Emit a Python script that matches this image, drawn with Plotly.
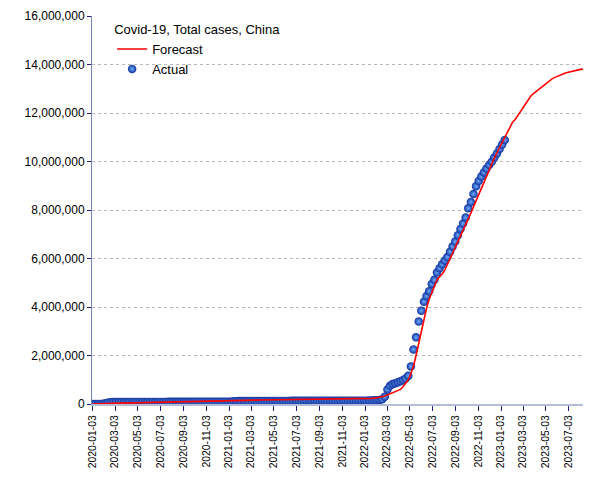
import pandas as pd
import plotly.graph_objects as go

# ---- data (weekly, starting 2020-01-03) ----
ACTUAL_START = "2020-01-03"
actual_cases = [
    44, 41, 62, 880, 11800, 31200, 66500, 76300, 79300, 80700,
    81000, 81300, 82000, 82800, 83500, 83900, 84200, 84400, 84500, 84600,
    84700, 84800, 84900, 85100, 85300, 85600, 86000, 86500, 87000, 87700,
    88300, 88900, 89300, 89600, 89800, 90000, 90100, 90300, 90500, 90700,
    90900, 91100, 91300, 91500, 91800, 92200, 92700, 93400, 94200, 95000,
    95700, 96300, 97000, 97800, 118000, 118500, 119000, 119400, 119800, 120100,
    120400, 120700, 121000, 121300, 121600, 121900, 122200, 122500, 122800, 123100,
    123500, 124000, 124800, 126000, 127500, 128800, 129800, 130500, 131000, 131400,
    131700, 132000, 132200, 132400, 132600, 132800, 133000, 133200, 133400, 133600,
    133800, 134000, 134200, 134400, 134600, 134800, 135000, 135300, 135600, 135900,
    136200, 136600, 137000, 137500, 138000, 138600, 145000, 148000, 152000, 158000,
    170000, 200000, 300000, 600000, 750000, 820000, 860000, 900000, 940000, 990000,
    1050000, 1160000, 1550000, 2250000, 2750000, 3400000, 3850000, 4220000, 4450000, 4650000,
    4950000, 5120000, 5420000, 5600000, 5760000, 5920000, 6060000, 6280000, 6500000, 6700000,
    6960000, 7220000, 7440000, 7690000, 8070000, 8330000, 8660000, 8980000, 9200000, 9380000,
    9550000, 9710000, 9860000, 9990000, 10160000, 10330000, 10520000, 10700000, 10890000,
]

FORECAST_START = "2020-01-03"
forecast_cases = [
    0, 500, 2000, 5000, 9000, 14000, 19000, 24000, 28000, 32000,
    35000, 38000, 41000, 44000, 47000, 50000, 53000, 56000, 58000, 60000,
    62000, 64000, 66000, 68000, 70000, 72000, 74000, 76000, 79000, 83000,
    87000, 92000, 97000, 102000, 106000, 110000, 113000, 116000, 119000, 122000,
    125000, 128000, 131000, 133000, 135000, 137000, 139000, 141000, 143000, 145000,
    147000, 149000, 150000, 151500, 152000, 153000, 154500, 155000, 156000, 157500,
    158000, 159000, 160500, 161000, 162000, 163500, 164000, 165000, 166500, 167000,
    168000, 169500, 170000, 171000, 172500, 173000, 174000, 175500, 176000, 177000,
    178000, 178500, 180000, 181500, 182000, 183000, 184500, 185000, 186000, 187500,
    188000, 189000, 190500, 191000, 192000, 193500, 194000, 195000, 196500, 197000,
    198000, 200000, 203000, 207000, 212000, 218000, 225000, 233000, 243000, 256000,
    272000, 300000, 330000, 380000, 430000, 480000, 520000, 560000, 600000, 720000,
    860000, 1000000, 1250000, 1570000, 2010000, 2520000, 3050000, 3550000, 3950000, 4320000,
    4580000, 4870000, 5120000, 5250000, 5360000, 5520000, 5750000, 6000000, 6250000, 6500000,
    6720000, 6920000, 7160000, 7380000, 7620000, 7870000, 8130000, 8390000, 8650000, 8920000,
    9160000, 9420000, 9670000, 9920000, 10140000, 10360000, 10580000, 10800000, 11020000, 11220000,
    11420000, 11620000, 11730000, 11900000, 12070000, 12230000, 12400000, 12560000, 12700000, 12800000,
    12890000, 12970000, 13060000, 13160000, 13260000, 13330000, 13400000, 13460000, 13510000, 13550000,
    13590000, 13640000, 13670000, 13700000, 13730000, 13760000, 13780000, 13800000, 13810000,
]

tick_labels = [
    "2020-01-03", "2020-03-03", "2020-05-03", "2020-07-03", "2020-09-03", "2020-11-03",
    "2021-01-03", "2021-03-03", "2021-05-03", "2021-07-03", "2021-09-03", "2021-11-03",
    "2022-01-03", "2022-03-03", "2022-05-03", "2022-07-03", "2022-09-03", "2022-11-03",
    "2023-01-03", "2023-03-03", "2023-05-03", "2023-07-03",
]
y_ticks = [0, 2000000, 4000000, 6000000, 8000000, 10000000, 12000000, 14000000, 16000000]

TITLE = "Covid-19, Total cases, China"

actual_dates = pd.date_range(ACTUAL_START, periods=len(actual_cases), freq="7D")
forecast_dates = pd.date_range(FORECAST_START, periods=len(forecast_cases), freq="7D")

FONT = "Liberation Sans, Arial, sans-serif"

fig = go.Figure()
fig.add_trace(go.Scatter(
    x=actual_dates, y=actual_cases, mode="markers", name="Actual",
    legendrank=2,
    marker=dict(size=8.5, color="#12329e", line=dict(width=0),
                gradient=dict(type="radial", color="#6db0ff")),
))
fig.add_trace(go.Scatter(
    x=forecast_dates, y=forecast_cases, mode="lines", name="Forecast",
    legendrank=1,
    line=dict(color="#ff0000", width=1.6),
))

fig.update_layout(
    width=605, height=480,
    margin=dict(l=84, r=30, t=8, b=84, autoexpand=False),
    paper_bgcolor="white", plot_bgcolor="white",
    font=dict(family=FONT, size=12, color="#000000"),
    showlegend=True,
    legend=dict(
        title=dict(text=TITLE, font=dict(size=13, family=FONT)),
        font=dict(size=13, family=FONT),
        x=0.041, y=0.997, xanchor="left", yanchor="top",
        bgcolor="rgba(0,0,0,0)", borderwidth=0,
        tracegroupgap=0, itemwidth=30,
    ),
    xaxis=dict(
        type="date",
        range=["2020-01-01", "2023-08-11"],
        tickmode="array", tickvals=tick_labels, ticktext=tick_labels,
        tickangle=-90, tickfont=dict(size=10.4, family=FONT),
        showgrid=False, zeroline=False,
        showline=True, linecolor="#b4bcd8", linewidth=2,
        ticks="outside", ticklen=5, tickcolor="#1a237e", tickwidth=1,
    ),
    yaxis=dict(
        range=[0, 16000000],
        tickmode="array", tickvals=y_ticks, tickformat=",d",
        tickfont=dict(size=12, family=FONT),
        showgrid=True, gridcolor="#b8b8b8", griddash="dot", gridwidth=1,
        zeroline=False,
        showline=True, linecolor="#7482b8", linewidth=1,
        ticks="outside", ticklen=4, tickcolor="#1a237e", tickwidth=1,
    ),
)

fig.write_html("out.html")
